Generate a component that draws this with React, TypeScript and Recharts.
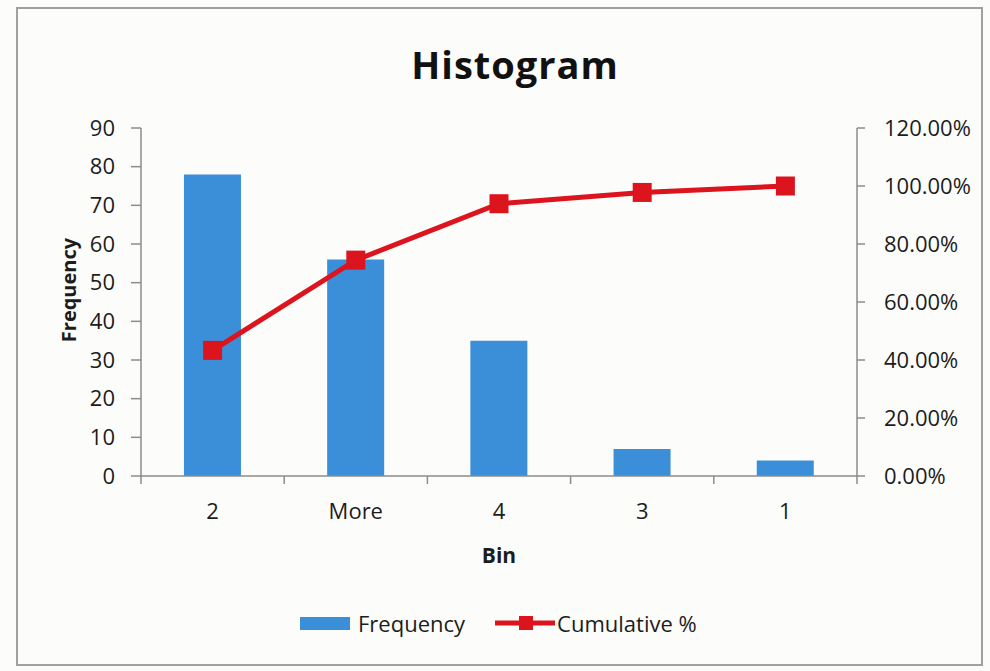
import React from "react";
import {ComposedChart, Bar, Line, XAxis, YAxis, Legend} from "recharts";

const bins = ["2", "More", "4", "3", "1"];
const frequency = [78, 56, 35, 7, 4];
const cumulativePct = [43.33, 74.44, 93.89, 97.78, 100];
const freqTicks = [0, 10, 20, 30, 40, 50, 60, 70, 80, 90];
const pctTicks = [0, 20, 40, 60, 80, 100, 120];

const data = bins.map((bin, i) => ({
  bin,
  frequency: frequency[i],
  cumulative: cumulativePct[i],
}));

const FONT = "'Open Sans', 'Noto Sans', sans-serif";
const BLUE = "#3b8fd9";
const RED = "#dc141e";
const AXIS = "#8c8c8c";
const TEXT = "#1c1c1c";

// plot box: left 141, right 857 -> one band per bin
const PLOT_W = 716;
const BAND = PLOT_W / bins.length;

const BinTick = (props: any) => {
  const {x, y, payload, index} = props;
  return (
    <g>
      <line x1={x - BAND / 2} y1={y} x2={x - BAND / 2} y2={y + 8} stroke={AXIS} strokeWidth={1.5} />
      {index === bins.length - 1 && (
        <line x1={x + BAND / 2} y1={y} x2={x + BAND / 2} y2={y + 8} stroke={AXIS} strokeWidth={1.5} />
      )}
      <text x={x} y={y + 43} textAnchor="middle" fill={TEXT} fontSize={22} fontFamily={FONT}>
        {payload.value}
      </text>
    </g>
  );
};

const SquareDot = (props: any) => {
  const {cx, cy, index} = props;
  return <rect key={`dot-${index}`} x={cx - 9.5} y={cy - 9.5} width={19} height={19} fill={RED} />;
};

const LegendContent = () => (
  <div style={{display: "flex", alignItems: "center", fontFamily: FONT, fontSize: 22, color: TEXT}}>
    <span style={{display: "inline-block", width: 50, height: 13, background: BLUE, marginRight: 8}} />
    <span>Frequency</span>
    <svg width={62} height={20} style={{marginLeft: 30}}>
      <line x1={0} y1={10} x2={60} y2={10} stroke={RED} strokeWidth={5} />
      <rect x={24} y={3} width={14} height={14} fill={RED} />
    </svg>
    <span>Cumulative %</span>
  </div>
);

const App = () => {
  return (
    <div style={{position: "absolute", left: 0, top: 0, width: 990, height: 671, background: "#fcfcfb", fontFamily: FONT}}>
      <div style={{position: "absolute", left: 16, top: 7, width: 967, height: 659, border: "2px solid #a0a0a0", boxSizing: "border-box"}} />
      <div
        style={{
          position: "absolute",
          left: 0,
          top: 45,
          width: 1030,
          textAlign: "center",
          fontSize: 38,
          lineHeight: "38px",
          fontWeight: 700,
          letterSpacing: 1,
          color: "#111",
        }}
      >
        Histogram
      </div>
      <ComposedChart
        width={990}
        height={671}
        data={data}
        margin={{top: 128, right: 13, bottom: 100, left: 20}}
        barCategoryGap="30%"
        style={{position: "absolute", left: 0, top: 0}}
      >
        <XAxis
          dataKey="bin"
          height={95}
          axisLine={{stroke: AXIS, strokeWidth: 1.5}}
          tickLine={false}
          tickSize={0}
          tickMargin={0}
          tick={<BinTick />}
          interval={0}
          label={{
            content: (p: any) => (
              <text
                x={p.viewBox.x + p.viewBox.width / 2}
                y={p.viewBox.y + 87}
                textAnchor="middle"
                fontSize={21}
                fontWeight={700}
                fontFamily={FONT}
                fill={TEXT}
              >
                Bin
              </text>
            ),
          }}
        />
        <YAxis
          yAxisId="freq"
          width={121}
          domain={[0, 90]}
          ticks={freqTicks}
          interval={0}
          axisLine={{stroke: AXIS, strokeWidth: 1.5}}
          tickLine={{stroke: AXIS, strokeWidth: 1.5}}
          tickSize={10}
          tickMargin={16}
          tick={{fill: TEXT, fontSize: 22, fontFamily: FONT}}
          label={{
            content: (p: any) => {
              const cx = p.viewBox.x + 48;
              const cy = p.viewBox.y + p.viewBox.height / 2 - 12;
              return (
                <text
                  x={cx}
                  y={cy}
                  transform={`rotate(-90 ${cx} ${cy})`}
                  textAnchor="middle"
                  dominantBaseline="central"
                  fontSize={20}
                  fontWeight={700}
                  fontFamily={FONT}
                  fill={TEXT}
                >
                  Frequency
                </text>
              );
            },
          }}
        />
        <YAxis
          yAxisId="pct"
          orientation="right"
          width={120}
          domain={[0, 120]}
          ticks={pctTicks}
          interval={0}
          axisLine={{stroke: AXIS, strokeWidth: 1.5}}
          tickLine={{stroke: AXIS, strokeWidth: 1.5}}
          tickSize={8}
          tickMargin={19}
          tick={{fill: TEXT, fontSize: 22, fontFamily: FONT}}
          tickFormatter={(v: number) => `${v.toFixed(2)}%`}
        />
        <Bar yAxisId="freq" dataKey="frequency" name="Frequency" fill={BLUE} isAnimationActive={false} />
        <Line
          yAxisId="pct"
          dataKey="cumulative"
          name="Cumulative %"
          stroke={RED}
          strokeWidth={5}
          dot={<SquareDot />}
          activeDot={false}
          isAnimationActive={false}
        />
        <Legend
          layout="horizontal"
          verticalAlign="middle"
          align="center"
          content={<LegendContent />}
          wrapperStyle={{left: 300, top: 608, width: 440, height: 30}}
        />
      </ComposedChart>
    </div>
  );
};

export default App;
